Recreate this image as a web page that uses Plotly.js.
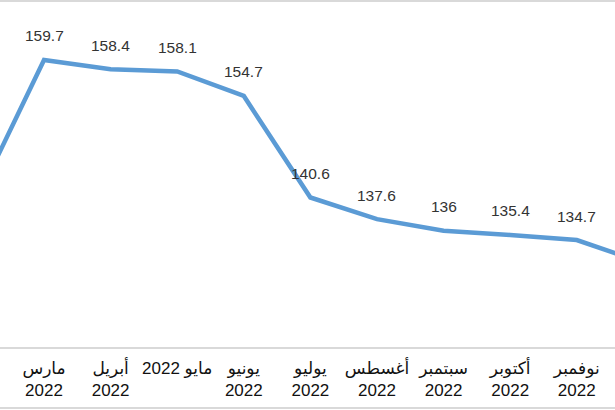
<!DOCTYPE html>
<html>
<head>
<meta charset="utf-8">
<script src="https://cdn.plot.ly/plotly-3.0.1.min.js"></script>
<style>html,body{margin:0;padding:0;background:#fff;}#chart{width:615px;height:410px;}</style>
</head>
<body>
<div id="chart"></div>
<script>
const months = ['فبراير<br>2022', 'مارس<br>2022', 'أبريل<br>2022', '2022 مايو', 'يونيو<br>2022', 'يوليو<br>2022', 'أغسطس<br>2022', 'سبتمبر<br>2022', 'أكتوبر<br>2022', 'نوفمبر<br>2022', 'ديسمبر<br>2022'];
const values = [140.5, 159.7, 158.4, 158.1, 154.7, 140.6, 137.6, 136, 135.4, 134.7, 131.5];

const trace = {
  x: months,
  y: values,
  type: 'scatter',
  mode: 'lines',
  line: {color: '#5b9bd5', width: 4.5},
  hoverinfo: 'skip'
};

const annotations = months.map((m, i) => ({
  x: m, y: values[i], xref: 'x', yref: 'y',
  text: String(values[i]), showarrow: false, yshift: 24,
  font: {family: 'Liberation Sans, Arial, sans-serif', size: 15.5, color: '#333'}
}));

const layout = {
  width: 615, height: 410,
  margin: {l: 0, r: 0, t: 0, b: 63},
  paper_bgcolor: '#fff', plot_bgcolor: '#fff',
  showlegend: false,
  xaxis: {
    type: 'category',
    range: [0.339, 9.574],
    showgrid: false, zeroline: false,
    showline: true, linecolor: '#d9d9d9', linewidth: 1.5,
    ticks: '', ticklen: 0, ticklabelstandoff: 5,
    tickfont: {family: 'Liberation Sans, DejaVu Sans, Arial, sans-serif', size: 17, color: '#111'},
    fixedrange: true
  },
  yaxis: {
    range: [119.84, 168.03],
    showgrid: false, zeroline: false, showline: false,
    showticklabels: false, ticks: '',
    fixedrange: true
  },
  annotations: annotations,
  shapes: [
    {type: 'line', xref: 'paper', yref: 'paper', x0: 0, x1: 1, y0: 0.997, y1: 0.997, line: {color: '#d9d9d9', width: 2}},
    {type: 'line', xref: 'paper', yref: 'paper', x0: 0, x1: 1, y0: -0.176, y1: -0.176, line: {color: '#d9d9d9', width: 2}}
  ]
};

Plotly.newPlot('chart', [trace], layout, {displayModeBar: false, staticPlot: true});
</script>
</body>
</html>
